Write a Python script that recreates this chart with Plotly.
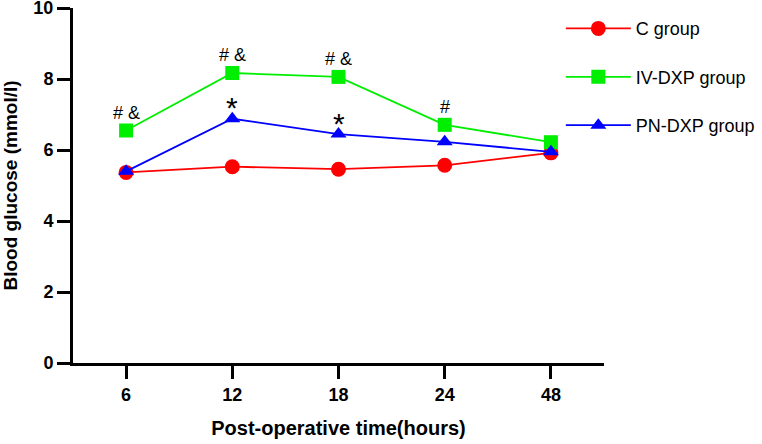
import plotly.graph_objects as go

# Post-operative time points (hours)
hours = ["6", "12", "18", "24", "48"]

# Blood glucose (mmol/l) for each group
c_group = [5.37, 5.53, 5.46, 5.57, 5.92]
iv_dxp_group = [6.55, 8.17, 8.06, 6.71, 6.22]
pn_dxp_group = [5.40, 6.88, 6.45, 6.23, 5.95]

# significance marks
iv_marks = ["# &", "# &", "# &", "#", ""]
pn_marks = ["", "*", "*", "", ""]

y_ticks = [0, 2, 4, 6, 8, 10]

font_family = "Arial, Liberation Sans, sans-serif"

fig = go.Figure()

series = [
    ("C group", c_group, "#ff0000", "circle", 15),
    ("IV-DXP group", iv_dxp_group, "#00ee00", "square", 14),
    ("PN-DXP group", pn_dxp_group, "#0000ff", "triangle-up", 14),
]

for name, values, color, symbol, size in series:
    fig.add_trace(
        go.Scatter(
            x=hours,
            y=values,
            name=name,
            mode="lines+markers",
            line=dict(color=color, width=1.8),
            marker=dict(color=color, symbol=symbol, size=size),
            legendgroup=name,
        )
    )

# category axis -> annotations placed by category index
for i, (v, t) in enumerate(zip(iv_dxp_group, iv_marks)):
    if t:
        fig.add_annotation(
            x=i, y=v, text=t, showarrow=False, yshift=18,
            font=dict(size=18, color="black", family=font_family),
        )

for i, (v, t) in enumerate(zip(pn_dxp_group, pn_marks)):
    if t:
        fig.add_annotation(
            x=i, y=v, text=t, showarrow=False, yshift=11,
            font=dict(size=30, color="black", family=font_family),
        )

fig.update_layout(
    width=762,
    height=444,
    margin=dict(l=73, r=158, t=8, b=81, autoexpand=False),
    plot_bgcolor="white",
    paper_bgcolor="white",
    font=dict(family=font_family, color="black"),
    legend=dict(
        xref="container",
        yref="container",
        x=0.736,
        y=0.977,
        xanchor="left",
        yanchor="top",
        itemwidth=65,
        tracegroupgap=22,
        font=dict(size=18, color="black"),
        bgcolor="rgba(0,0,0,0)",
    ),
    xaxis=dict(
        type="category",
        range=[-0.5, 4.5],
        showline=True,
        linecolor="black",
        linewidth=3,
        ticks="outside",
        ticklen=13,
        tickwidth=3,
        tickcolor="black",
        showgrid=False,
        zeroline=False,
        tickfont=dict(size=18, family=font_family, weight="bold"),
        title=dict(
            text="<b>Post-operative time(hours)</b>",
            font=dict(size=20),
            standoff=18,
        ),
    ),
    yaxis=dict(
        range=[0, 10.001],
        tickmode="array",
        tickvals=y_ticks,
        ticklabeloverflow="allow",
        showline=True,
        linecolor="black",
        linewidth=3,
        ticks="outside",
        ticklen=13,
        tickwidth=3,
        tickcolor="black",
        showgrid=False,
        zeroline=False,
        tickfont=dict(size=18, family=font_family, weight="bold"),
        title=dict(
            text="<b>Blood glucose (mmol/l)</b>",
            font=dict(size=19),
            standoff=18,
        ),
    ),
)

fig.write_html(
    "out.html",
    config={"displayModeBar": False},
    post_script="document.body.style.margin='0';",
)
